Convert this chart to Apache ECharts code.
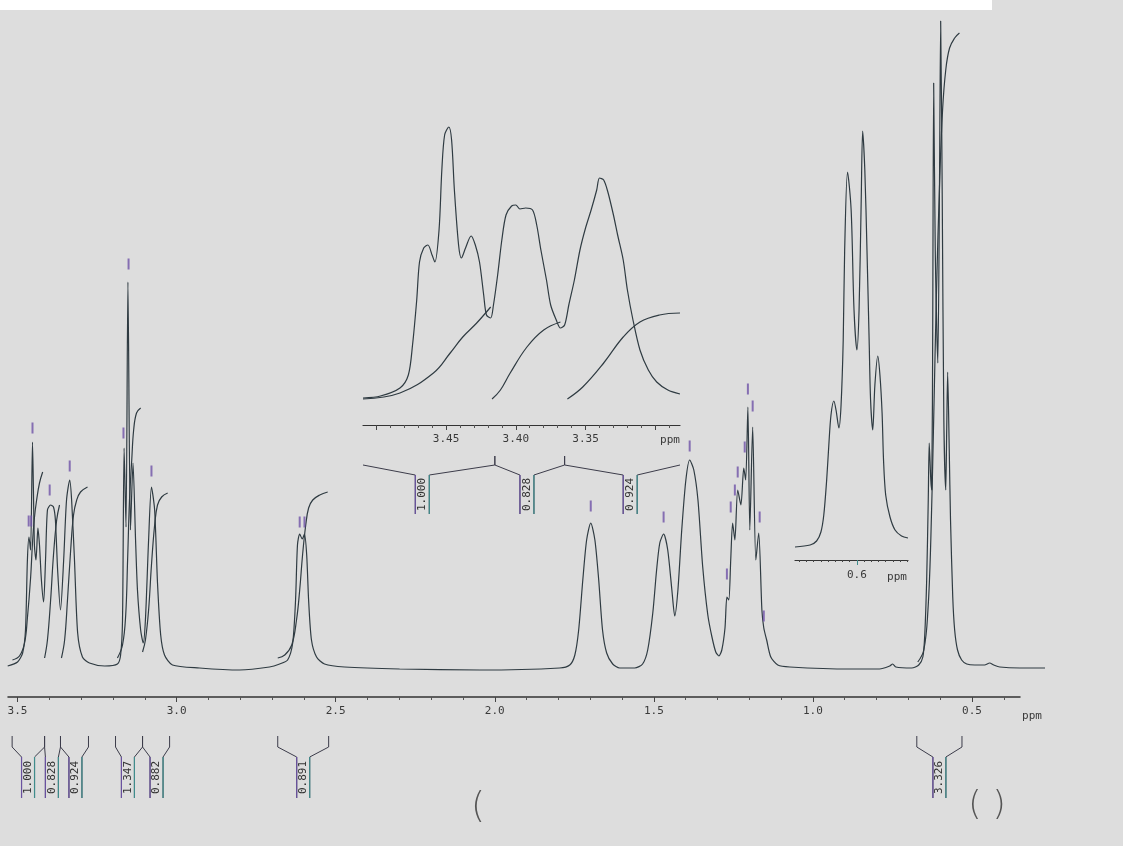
<!DOCTYPE html>
<html>
<head>
<meta charset="utf-8">
<script src="https://cdn.jsdelivr.net/npm/echarts@6.0.0/dist/echarts.min.js"></script>
<style>
html,body{margin:0;padding:0;background:#dddddd;}
#chart{width:1123px;height:846px;}
</style>
</head>
<body>
<div id="chart"></div>
<script>
// ---------- DATA (ppm, intensity) ----------
const spectrumMain = [[3.531,2],[3.500,6],[3.484,15],[3.475,38],[3.469,108],[3.464,131],[3.459,118],[3.453,226],[3.447,123],[3.442,108],[3.436,140],[3.431,123],[3.425,88],[3.418,66],[3.412,108],[3.406,158],[3.396,163],[3.387,161],[3.381,148],[3.374,98],[3.365,58],[3.355,108],[3.346,168],[3.336,188],[3.330,168],[3.321,108],[3.311,35],[3.296,11],[3.274,5],[3.226,2],[3.186,4],[3.176,13],[3.170,48],[3.165,220],[3.159,141],[3.153,386],[3.145,138],[3.137,205],[3.129,128],[3.123,78],[3.113,38],[3.105,25],[3.098,48],[3.088,128],[3.079,181],[3.069,158],[3.060,85],[3.050,33],[3.038,13],[3.013,3],[2.928,0],[2.802,-2],[2.708,1],[2.676,4],[2.651,8],[2.635,25],[2.626,68],[2.620,123],[2.613,134],[2.605,129],[2.598,134],[2.591,113],[2.585,68],[2.576,28],[2.560,11],[2.535,4],[2.472,1],[2.299,-1],[2.047,-2],[1.796,0],[1.764,3],[1.748,13],[1.736,38],[1.723,88],[1.711,128],[1.698,145],[1.685,128],[1.673,88],[1.661,38],[1.648,15],[1.629,4],[1.607,0],[1.560,0],[1.535,4],[1.519,18],[1.503,55],[1.491,98],[1.481,125],[1.469,134],[1.456,118],[1.443,78],[1.434,52],[1.424,78],[1.412,138],[1.399,188],[1.387,208],[1.374,198],[1.361,168],[1.346,101],[1.330,53],[1.317,31],[1.305,16],[1.295,12],[1.286,18],[1.276,40],[1.270,71],[1.264,68],[1.258,108],[1.252,145],[1.245,128],[1.236,178],[1.226,163],[1.217,200],[1.211,188],[1.204,261],[1.198,138],[1.189,241],[1.179,108],[1.170,135],[1.160,58],[1.154,40],[1.145,28],[1.132,11],[1.110,3],[1.072,1],[0.884,-1],[0.790,-1],[0.758,2],[0.749,4],[0.739,1],[0.689,0],[0.667,3],[0.654,11],[0.648,33],[0.642,88],[0.637,168],[0.634,225],[0.629,188],[0.626,178],[0.623,338],[0.620,585],[0.615,418],[0.607,305],[0.602,468],[0.598,647],[0.593,468],[0.588,248],[0.582,178],[0.579,238],[0.576,296],[0.571,218],[0.567,148],[0.560,71],[0.554,38],[0.545,18],[0.532,8],[0.516,4],[0.491,3],[0.460,3],[0.444,5],[0.431,3],[0.412,1],[0.349,0],[0.270,0]];

const integralA1 = [[3.516,8],[3.494,12],[3.478,25],[3.469,50],[3.459,90],[3.453,125],[3.447,150],[3.440,168],[3.431,185],[3.421,196]];
const integralA2 = [[3.415,10],[3.406,28],[3.396,68],[3.387,113],[3.377,148],[3.368,163]];
const integralA3 = [[3.362,10],[3.352,28],[3.343,68],[3.333,118],[3.324,153],[3.314,168],[3.302,176],[3.280,181]];
const integralB1 = [[3.186,10],[3.170,23],[3.160,53],[3.154,108],[3.148,168],[3.141,208],[3.135,238],[3.126,255],[3.113,260]];
const integralB2 = [[3.107,16],[3.098,28],[3.088,58],[3.079,103],[3.069,143],[3.060,163],[3.047,171],[3.028,175]];
const integralC  = [[2.682,10],[2.660,13],[2.638,23],[2.623,48],[2.613,78],[2.604,113],[2.594,143],[2.585,160],[2.572,168],[2.550,173],[2.525,176]];
const integralD  = [[0.670,6],[0.651,18],[0.638,58],[0.629,128],[0.620,248],[0.611,378],[0.601,488],[0.592,558],[0.582,598],[0.570,620],[0.554,630],[0.539,635]];

const peakMarkPpm    = [3.465,3.457,3.453,3.399,3.336,3.167,3.151,3.079,2.613,2.598,1.698,1.469,1.387,1.204,1.189,1.214,1.236,1.245,1.258,1.270,1.167,1.154];
const peakMarkHeight = [147,147,240,178,202,235,404,197,146,146,162,151,222,279,262,221,196,178,161,94,151,52];

const intStarts  = [3.517,3.415,3.365,3.192,3.107,2.682,0.673];
const intEnds    = [3.415,3.365,3.277,3.107,3.022,2.522,0.531];
const intCenters = [3.467,3.392,3.318,3.153,3.063,2.602,0.602];
const intValues  = ['1.000','0.828','0.924','1.347','0.882','0.891','3.326'];

const mainMajorTicks = [0.5,1.0,1.5,2.0,2.5,3.0,3.5];
const mainMinorTicks = [0.4,0.6,0.7,0.8,0.9,1.1,1.2,1.3,1.4,1.6,1.7,1.8,1.9,2.1,2.2,2.3,2.4,2.6,2.7,2.8,2.9,3.1,3.2,3.3,3.4];

const inset1Spectrum = [[3.5095,2],[3.497,4],[3.483,12],[3.477,25],[3.474,55],[3.471,100],[3.469,138],[3.466,152],[3.463,155],[3.460,145],[3.458,138],[3.455,170],[3.453,230],[3.451,265],[3.448,273],[3.446,260],[3.444,210],[3.441,155],[3.439,142],[3.436,152],[3.432,164],[3.429,155],[3.426,138],[3.423,105],[3.421,85],[3.418,82],[3.416,95],[3.413,125],[3.410,160],[3.407,185],[3.403,194],[3.400,195],[3.397,191],[3.393,192],[3.388,190],[3.385,175],[3.382,150],[3.378,120],[3.375,95],[3.371,80],[3.368,72],[3.365,75],[3.362,95],[3.358,120],[3.354,150],[3.350,172],[3.346,190],[3.342,210],[3.340,222],[3.337,220],[3.334,208],[3.330,185],[3.327,165],[3.323,140],[3.320,110],[3.316,80],[3.311,50],[3.305,30],[3.299,18],[3.291,10],[3.2823,6]];
const inset1IntA1 = [[3.5095,1],[3.483,7],[3.459,27],[3.447,47],[3.438,63],[3.428,77],[3.418,93]];
const inset1IntA2 = [[3.417,1],[3.411,10],[3.404,27],[3.392,53],[3.380,70],[3.368,78]];
const inset1IntA3 = [[3.363,1],[3.352,13],[3.337,37],[3.323,63],[3.311,78],[3.297,85],[3.2823,87]];
const inset1MajorTicks = [3.30,3.35,3.40,3.45,3.50];
const inset1Labels = [3.35,3.40,3.45];
const inset1MinorTicks = [3.29,3.31,3.32,3.33,3.34,3.36,3.37,3.38,3.39,3.41,3.42,3.43,3.44,3.46,3.47,3.48,3.49];

const inset2Spectrum = [[0.686,3],[0.665,5],[0.656,9],[0.650,18],[0.646,35],[0.642,70],[0.639,105],[0.636,135],[0.632,149],[0.629,140],[0.625,122],[0.622,145],[0.619,210],[0.617,300],[0.613,378],[0.608,340],[0.604,240],[0.600,200],[0.597,240],[0.594,350],[0.592,419],[0.589,380],[0.586,300],[0.583,210],[0.581,150],[0.578,120],[0.575,165],[0.571,194],[0.568,175],[0.565,137],[0.563,90],[0.560,55],[0.554,33],[0.547,20],[0.538,14],[0.529,12]];
const inset2MajorTicks = [0.6];
const inset2MinorTicks = [0.53,0.54,0.55,0.56,0.57,0.58,0.59,0.61,0.62,0.63,0.64,0.65,0.66,0.67,0.68];

// ---------- STYLE ----------
const INK = '#2f3b42';
const MONO = '"DejaVu Sans Mono", "Liberation Mono", monospace';
const LABEL = '#3a3a3a';

function lineSeries(data, xi, yi, smooth) {
  return {type:'line', data:data, xAxisIndex:xi, yAxisIndex:yi, showSymbol:false, symbol:'none',
    smooth:smooth, lineStyle:{color:INK, width:1.2}, silent:true, z:3};
}

function bracketRender(cfg) {
  return function (params, api) {
    const cs = params.coordSys;
    const yb = cs.y + cs.height;
    const lo = cs.x, hi = cs.x + cs.width;
    let xL = api.coord([api.value(0), 0])[0];
    let xR = api.coord([api.value(1), 0])[0];
    const xC = api.coord([api.value(2), 0])[0];
    const label = intValues[api.value(3)];
    const hw = cfg.boxW / 2;
    const lClamp = xL < lo, rClamp = xR > hi;
    if (lClamp) xL = lo;
    if (rClamp) xR = hi;
    const leftPts = lClamp ? [] : [[xL, yb + cfg.tickTop]];
    leftPts.push([xL, yb + cfg.tickBot], [xC - hw, yb + cfg.boxTop], [xC - hw, yb + cfg.boxBot]);
    const rightPts = rClamp ? [] : [[xR, yb + cfg.tickTop]];
    rightPts.push([xR, yb + cfg.tickBot], [xC + hw, yb + cfg.boxTop], [xC + hw, yb + cfg.boxBot]);
    return {
      type: 'group',
      children: [
        {type:'polyline', shape:{points:leftPts}, style:{stroke:'#3c3c4a', lineWidth:1, fill:null}},
        {type:'polyline', shape:{points:rightPts}, style:{stroke:'#3c3c4a', lineWidth:1, fill:null}},
        {type:'line', shape:{x1:xC - hw, y1:yb + cfg.boxTop, x2:xC - hw, y2:yb + cfg.boxBot}, style:{stroke:'#6a52a0', lineWidth:1.2}},
        {type:'line', shape:{x1:xC + hw, y1:yb + cfg.boxTop, x2:xC + hw, y2:yb + cfg.boxBot}, style:{stroke:'#3f8c8c', lineWidth:1.2}},
        {type:'text', x:xC, y:yb + (cfg.boxTop + cfg.boxBot) / 2, rotation:Math.PI / 2,
          style:{text:label, fill:'#333', fontSize:11, fontFamily:MONO, align:'center', verticalAlign:'middle', textAlign:'center', textVerticalAlign:'middle'}}
      ]
    };
  };
}

const bracketData = intStarts.map((s, i) => [s, intEnds[i], intCenters[i], i]);
const INSET1_MIN = 3.2823, INSET1_MAX = 3.5095;
const bracketInsetData = bracketData.filter(d => d[2] > INSET1_MIN && d[2] < INSET1_MAX);

const chart = echarts.init(document.getElementById('chart'), null, {renderer:'canvas'});

const option = {
  backgroundColor: '#dddddd',
  animation: false,
  grid: [
    {left:8, right:78, top:10, bottom:149},
    {left:8, right:103, top:10, bottom:149},
    {left:363, right:443, top:110, bottom:421},
    {left:795, right:215, top:120, bottom:286}
  ],
  xAxis: [
    {gridIndex:0, type:'value', min:0.27, max:3.53, inverse:true, show:false},
    {gridIndex:1, type:'value', min:0.349, max:3.53, inverse:true, position:'bottom',
      axisLine:{show:true, onZero:false, lineStyle:{color:'#333', width:1.5}},
      axisTick:{show:true, customValues:mainMajorTicks, length:5, lineStyle:{color:'#444'}},
      axisLabel:{show:true, customValues:mainMajorTicks, formatter:v => Number(v).toFixed(1), margin:9, fontFamily:MONO, fontSize:11, color:LABEL},
      splitLine:{show:false}},
    {gridIndex:1, type:'value', min:0.349, max:3.53, inverse:true, position:'bottom',
      axisLine:{show:false, onZero:false},
      axisTick:{show:true, customValues:mainMinorTicks, length:3, lineStyle:{color:'#555'}},
      axisLabel:{show:false}, splitLine:{show:false}},
    {gridIndex:2, type:'value', min:INSET1_MIN, max:INSET1_MAX, inverse:true, position:'bottom',
      axisLine:{show:true, onZero:false, lineStyle:{color:'#333', width:1.2}},
      axisTick:{show:true, customValues:inset1MajorTicks, length:5, lineStyle:{color:'#444'}},
      axisLabel:{show:true, customValues:inset1Labels, formatter:v => Number(v).toFixed(2), margin:9, fontFamily:MONO, fontSize:11, color:LABEL},
      splitLine:{show:false}},
    {gridIndex:2, type:'value', min:INSET1_MIN, max:INSET1_MAX, inverse:true, position:'bottom',
      axisLine:{show:false, onZero:false},
      axisTick:{show:true, customValues:inset1MinorTicks, length:3, lineStyle:{color:'#555'}},
      axisLabel:{show:false}, splitLine:{show:false}},
    {gridIndex:3, type:'value', min:0.529, max:0.686, inverse:true, position:'bottom',
      axisLine:{show:true, onZero:false, lineStyle:{color:'#333', width:1.2}},
      axisTick:{show:true, customValues:inset2MajorTicks, length:5, lineStyle:{color:'#3f8c8c'}},
      axisLabel:{show:true, customValues:inset2MajorTicks, formatter:v => Number(v).toFixed(1), margin:10, fontFamily:MONO, fontSize:11, color:LABEL},
      splitLine:{show:false}},
    {gridIndex:3, type:'value', min:0.529, max:0.686, inverse:true, position:'bottom',
      axisLine:{show:false, onZero:false},
      axisTick:{show:true, customValues:inset2MinorTicks, length:2, lineStyle:{color:'#444'}},
      axisLabel:{show:false}, splitLine:{show:false}}
  ],
  yAxis: [
    {gridIndex:0, type:'value', min:-29, max:658, show:false},
    {gridIndex:1, type:'value', min:0, max:1, show:false},
    {gridIndex:2, type:'value', min:-25, max:290, show:false},
    {gridIndex:3, type:'value', min:-10, max:430, show:false}
  ],
  graphic: [
    {type:'rect', shape:{x:0, y:0, width:992, height:10}, style:{fill:'#ffffff'}, z:-1},
    {type:'text', x:1032, y:716, style:{text:'ppm', fill:LABEL, fontSize:11, fontFamily:MONO, align:'center', verticalAlign:'middle'}},
    {type:'text', x:670, y:440, style:{text:'ppm', fill:LABEL, fontSize:11, fontFamily:MONO, align:'center', verticalAlign:'middle'}},
    {type:'text', x:897, y:577, style:{text:'ppm', fill:LABEL, fontSize:11, fontFamily:MONO, align:'center', verticalAlign:'middle'}},
    {type:'text', x:478, y:808, style:{text:'(', fill:'#555', fontSize:36, fontFamily:'"DejaVu Sans"', fontWeight:200, align:'center', verticalAlign:'middle'}},
    {type:'text', x:987, y:806, style:{text:'( )', fill:'#555', fontSize:34, fontFamily:'"DejaVu Sans"', fontWeight:200, align:'center', verticalAlign:'middle'}}
  ],
  series: [
    lineSeries(spectrumMain, 0, 0, 0.25),
    lineSeries(integralA1, 0, 0, 0.4),
    lineSeries(integralA2, 0, 0, 0.4),
    lineSeries(integralA3, 0, 0, 0.4),
    lineSeries(integralB1, 0, 0, 0.4),
    lineSeries(integralB2, 0, 0, 0.4),
    lineSeries(integralC, 0, 0, 0.4),
    lineSeries(integralD, 0, 0, 0.4),
    {type:'scatter', xAxisIndex:0, yAxisIndex:0, symbol:'rect', symbolSize:[2, 11],
      data: peakMarkPpm.map((p, i) => [p, peakMarkHeight[i]]),
      itemStyle:{color:'#6f52a8'}, silent:true, z:4},
    {type:'custom', xAxisIndex:0, yAxisIndex:0, clip:false, silent:true, z:5,
      renderItem: bracketRender({tickTop:39, tickBot:50, boxTop:60, boxBot:101, boxW:13}),
      data: bracketData},
    lineSeries(inset1Spectrum, 3, 2, 0.3),
    lineSeries(inset1IntA1, 3, 2, 0.4),
    lineSeries(inset1IntA2, 3, 2, 0.4),
    lineSeries(inset1IntA3, 3, 2, 0.4),
    {type:'custom', xAxisIndex:3, yAxisIndex:2, clip:false, silent:true, z:5,
      renderItem: bracketRender({tickTop:31, tickBot:40, boxTop:50, boxBot:89, boxW:14}),
      data: bracketInsetData},
    lineSeries(inset2Spectrum, 5, 3, 0.3)
  ]
};
chart.setOption(option);
</script>
</body>
</html>
